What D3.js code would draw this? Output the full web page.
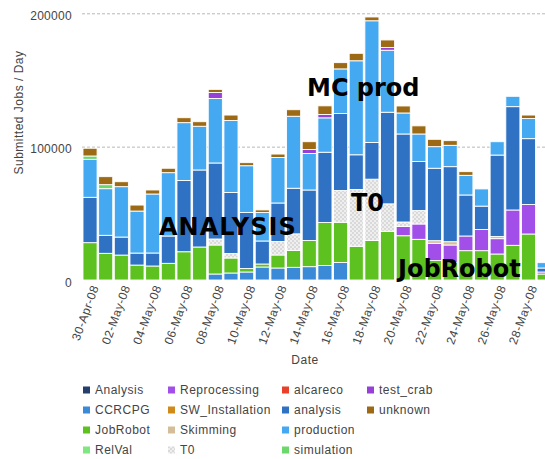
<!DOCTYPE html>
<html>
<head>
<meta charset="utf-8">
<script src="https://cdn.jsdelivr.net/npm/d3@7"></script>
<style>
  html, body { margin: 0; padding: 0; background: #fff; }
  svg { display: block; }
  .tick text { font-family: "Liberation Sans", Arial, sans-serif; }
</style>
</head>
<body>
<svg id="chart" width="545" height="459"></svg>
<script>
// Submitted jobs per day, by activity
const days = [
  "30-Apr-08","01-May-08","02-May-08","03-May-08","04-May-08","05-May-08","06-May-08","07-May-08",
  "08-May-08","09-May-08","10-May-08","11-May-08","12-May-08","13-May-08","14-May-08","15-May-08",
  "16-May-08","17-May-08","18-May-08","19-May-08","20-May-08","21-May-08","22-May-08","23-May-08",
  "24-May-08","25-May-08","26-May-08","27-May-08","28-May-08","29-May-08"
];
const dateTicks = [
  "30-Apr-08","02-May-08","04-May-08","06-May-08","08-May-08","10-May-08","12-May-08","14-May-08",
  "16-May-08","18-May-08","20-May-08","22-May-08","24-May-08","26-May-08","28-May-08"
];
const yTicks = [0, 100000, 200000];

// one array per activity, one value per day
const Analysis        = [0,0,0,0,0,0,0,0,0,0,0,0,0,0,0,0,0,0,0,0,0,0,0,0,0,0,0,0,0,0];
const CCRCPG          = [0,0,0,0,0,0,0,0,4500,5250,6000,9750,9000,9500,10000,10900,13100,0,0,0,0,0,0,0,0,0,0,0,0,0];
const JobRobot        = [28000,20000,18700,11200,10500,12500,21200,24750,21750,11250,2600,2250,9750,12600,19600,32200,30200,25300,29600,36500,33200,30500,14600,13250,22000,22000,19500,26000,34500,4500];
const RelVal          = [0,0,0,0,0,0,0,0,0,0,0,0,0,0,0,0,0,0,0,0,0,0,0,0,0,0,0,0,0,0];
const Reprocessing    = [0,0,0,0,0,0,0,0,0,0,0,0,0,0,0,0,0,0,0,0,6900,11500,12900,13000,11000,15900,11500,26500,22100,1500];
const SW_Installation = [0,0,0,0,0,0,0,0,0,0,0,0,0,0,0,0,0,0,0,0,0,0,0,0,0,0,0,0,0,0];
const Skimming        = [0,0,0,0,0,0,0,0,0,0,0,0,0,0,0,0,0,0,0,0,0,0,2000,2500,0,0,1600,0,0,0];
const T0              = [0,0,0,0,0,0,0,0,4500,3400,0,0,10100,12500,0,0,23800,42600,46000,20600,3400,10100,0,0,0,0,0,0,0,0];
const alcareco        = [0,0,0,0,0,0,0,0,0,0,0,0,0,0,0,0,0,0,0,0,0,0,0,0,0,0,0,0,0,0];
const analysis        = [34000,13500,13500,9000,9750,20500,53400,57750,57000,45700,42000,17250,28900,34200,37900,52700,57800,26000,27500,68700,66000,36800,54300,56250,30750,17500,61100,77500,49400,3000];
const production      = [28500,35000,37800,31500,44250,47500,43400,32800,48400,54000,35100,21400,34100,54000,27400,25800,33400,70500,91300,46500,15750,20600,16200,16000,14750,12900,10000,7750,15100,4000];
const simulation      = [2500,3000,0,0,0,0,0,0,0,0,0,0,0,0,0,0,0,0,0,0,0,0,0,0,0,0,0,0,0,0];
const test_crab       = [0,0,0,0,0,0,0,0,4500,0,0,0,0,0,3000,2500,0,0,0,2100,0,0,0,0,0,0,0,0,0,0];
const unknown         = [5800,6000,3700,4500,3000,3300,3700,3400,2300,4100,2300,1900,2600,4900,5800,6500,4700,5600,2850,5600,5250,6100,5500,3500,2750,0,0,0,2600,0];

const seriesNames = ["Analysis","CCRCPG","JobRobot","RelVal","Reprocessing","SW_Installation","Skimming",
                     "T0","alcareco","analysis","production","simulation","test_crab","unknown"];
const seriesValues = [Analysis, CCRCPG, JobRobot, RelVal, Reprocessing, SW_Installation, Skimming,
                      T0, alcareco, analysis, production, simulation, test_crab, unknown];
const seriesColors = ["#253f6c","#3a8ad8","#5dc120","#80e680","#a24ee8","#d08a1a","#d6bd9a",
                      "url(#t0pat)","#e8402a","#2f72c4","#45a9f2","#6cd86c","#9640d8","#9c6a14"];

const annotations = [
  { text: "MC prod",  x: 307, y: 96,    spacing: 0 },
  { text: "ANALYSIS", x: 159, y: 234.5, spacing: 1 },
  { text: "T0",       x: 351, y: 211,   spacing: 0 },
  { text: "JobRobot", x: 398, y: 277,   spacing: 0 }
];

const svg = d3.select("#chart");

// checkered fill for T0
const defs = svg.append("defs");
const pat = defs.append("pattern").attr("id", "t0pat")
  .attr("patternUnits", "userSpaceOnUse").attr("width", 4).attr("height", 4);
pat.append("rect").attr("width", 4).attr("height", 4).attr("fill", "#efefef");
pat.append("rect").attr("width", 2).attr("height", 2).attr("fill", "#d9d9d9");
pat.append("rect").attr("x", 2).attr("y", 2).attr("width", 2).attr("height", 2).attr("fill", "#d9d9d9");

const table = days.map((d, i) => {
  const row = { day: d };
  seriesNames.forEach((s, k) => { row[s] = seriesValues[k][i]; });
  return row;
});

const x = d3.scaleBand().domain(days).range([82.2, 552])
  .paddingInner(0.1).paddingOuter(0.05);
const y = d3.scaleLinear().domain([0, 200000]).range([280, 13.3]);
const color = d3.scaleOrdinal().domain(seriesNames).range(seriesColors);

// gridlines + y labels
const yAxis = svg.append("g").attr("transform", "translate(82,0)")
  .call(d3.axisLeft(y).tickValues(yTicks).tickFormat(d3.format("d")).tickSize(-470).tickPadding(10));
yAxis.select(".domain").remove();
yAxis.selectAll(".tick line")
  .attr("stroke", "#b8b8b8").attr("stroke-dasharray", "3,2")
  .attr("opacity", d => d === 0 ? 0 : 1);
yAxis.selectAll(".tick text")
  .attr("fill", "#444").style("font-size", "12px").style("letter-spacing", "0.3px")
  .attr("dy", "0.5em");

// stacked bars
const stacked = d3.stack().keys(seriesNames)(table);
svg.append("g").selectAll("g").data(stacked).join("g")
  .attr("fill", d => color(d.key))
  .selectAll("rect").data(d => d.filter(p => p[1] - p[0] > 0)).join("rect")
  .attr("x", p => x(p.data.day))
  .attr("width", x.bandwidth())
  .attr("y", p => y(p[1]))
  .attr("height", p => y(p[0]) - y(p[1]))
  .attr("stroke", "#fff").attr("stroke-width", 0.9);

// x labels
const xAxis = svg.append("g").attr("transform", "translate(0,280)")
  .call(d3.axisBottom(x).tickValues(dateTicks).tickSize(0));
xAxis.select(".domain").remove();
xAxis.selectAll(".tick text")
  .attr("fill", "#444").style("font-size", "12px").style("letter-spacing", "0.5px")
  .attr("text-anchor", "end")
  .attr("x", 0).attr("y", 0).attr("dy", 0)
  .attr("transform", "translate(9,7) rotate(-70)");

// axis titles
svg.append("text").attr("x", 305).attr("y", 364).attr("text-anchor", "middle")
  .attr("font-family", "Liberation Sans, Arial, sans-serif").attr("font-size", 12)
  .attr("fill", "#444").style("letter-spacing", "0.5px").text("Date");
svg.append("text").attr("transform", "translate(23,112.5) rotate(-90)").attr("text-anchor", "middle")
  .attr("font-family", "Liberation Sans, Arial, sans-serif").attr("font-size", 12)
  .attr("fill", "#444").style("letter-spacing", "0.5px").text("Submitted Jobs / Day");

// annotations
svg.append("g").selectAll("text").data(annotations).join("text")
  .attr("x", d => d.x).attr("y", d => d.y)
  .attr("font-family", "DejaVu Sans, Verdana, sans-serif").attr("font-weight", "bold")
  .attr("font-size", 24).attr("fill", "#000")
  .style("letter-spacing", d => d.spacing + "px")
  .text(d => d.text);

// legend, four rows filled column by column
const legendCols = [83, 168, 282, 367];
const legend = svg.append("g").selectAll("g").data(seriesNames).join("g")
  .attr("transform", (d, i) => `translate(${legendCols[Math.floor(i / 4)]},${390 + (i % 4) * 20})`);
legend.append("rect").attr("x", 0).attr("y", -3.5).attr("width", 7).attr("height", 7)
  .attr("fill", d => color(d));
legend.append("text").attr("x", 12).attr("y", 4.3)
  .attr("font-family", "Liberation Sans, Arial, sans-serif").attr("font-size", 12)
  .attr("fill", "#444").style("letter-spacing", "0.5px").text(d => d);
</script>
</body>
</html>
